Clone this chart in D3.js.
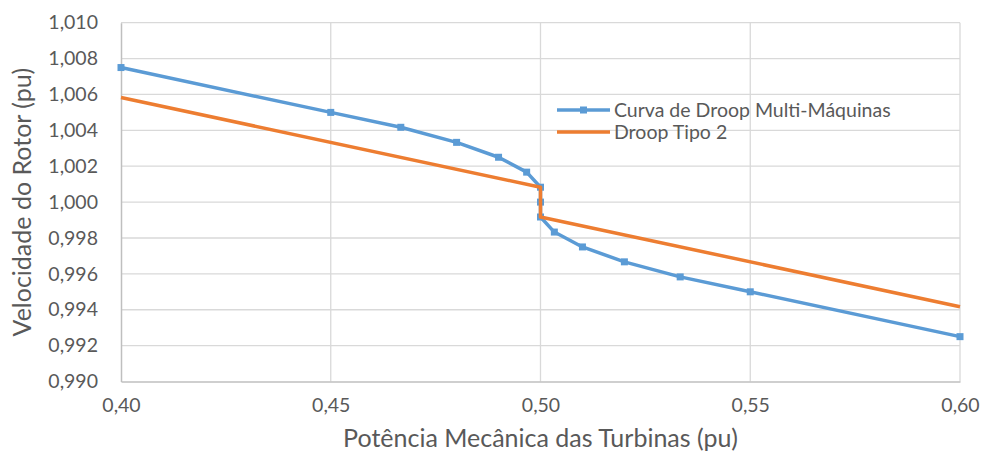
<!DOCTYPE html>
<html>
<head>
<meta charset="utf-8">
<script src="https://cdn.jsdelivr.net/npm/d3@7"></script>
<style>
  html, body { margin: 0; padding: 0; background: #fff; }
  svg text { font-family: Lato, "Open Sans", sans-serif; fill: #595959; }
</style>
</head>
<body>
<svg id="chart" width="984" height="455"></svg>
<script>
// Multi-machine droop curve (power, speed)
const multiP = [0.40, 0.45, 0.4667, 0.48, 0.49, 0.4967, 0.50, 0.50, 0.50, 0.5033, 0.51, 0.52, 0.5333, 0.55, 0.60];
const multiW = [1.0075, 1.0050, 1.00417, 1.00333, 1.0025, 1.00167, 1.00083, 1.0000, 0.99917, 0.99833, 0.9975, 0.99667, 0.99583, 0.9950, 0.9925];
// Type 2 droop
const tipo2P = [0.40, 0.50, 0.50, 0.60];
const tipo2W = [1.00583, 1.00083, 0.99917, 0.99417];
// Tick values
const xTicks = [0.40, 0.45, 0.50, 0.55, 0.60];
const yTicks = [0.990, 0.992, 0.994, 0.996, 0.998, 1.000, 1.002, 1.004, 1.006, 1.008, 1.010];
const seriesNames = ["Curva de Droop Multi-Máquinas", "Droop Tipo 2"];

const svg = d3.select("#chart");
const plotL = 121, plotR = 960, plotT = 22.7, plotB = 381.5;

const x = d3.scaleLinear().domain([0.40, 0.60]).range([plotL, plotR]);
const y = d3.scaleLinear().domain([0.990, 1.010]).range([plotB, plotT]);
const fmt = (d, n) => d.toFixed(n).replace(".", ",");

// gridlines
svg.append("g").selectAll("line").data(yTicks.slice(1)).join("line")
  .attr("x1", plotL).attr("x2", plotR)
  .attr("y1", d => y(d)).attr("y2", d => y(d))
  .attr("stroke", "#D9D9D9").attr("stroke-width", 1.3);
svg.append("g").selectAll("line").data(xTicks.slice(1)).join("line")
  .attr("x1", d => x(d)).attr("x2", d => x(d))
  .attr("y1", plotT).attr("y2", plotB)
  .attr("stroke", "#D9D9D9").attr("stroke-width", 1.3);

// axes
const xAxis = d3.axisBottom(x).tickValues(xTicks).tickFormat(d => fmt(d, 2)).tickSize(0).tickPadding(17);
const yAxis = d3.axisLeft(y).tickValues(yTicks).tickFormat(d => fmt(d, 3)).tickSize(0).tickPadding(23);
const gx = svg.append("g").attr("transform", `translate(0,${plotB})`).call(xAxis);
const gy = svg.append("g").attr("transform", `translate(${plotL},0)`).call(yAxis);
[gx, gy].forEach(g => {
  g.select(".domain").attr("stroke", "#BFBFBF").attr("stroke-width", 1.5);
  g.selectAll("text").attr("font-size", 19.5).attr("fill", "#595959")
    .style("font-family", "Lato, 'Open Sans', sans-serif");
});

// axis titles
svg.append("text").attr("x", (plotL + plotR) / 2).attr("y", 447)
  .attr("text-anchor", "middle").attr("font-size", 25).text("Potência Mecânica das Turbinas (pu)");
svg.append("text").attr("transform", `translate(31,${(plotT + plotB) / 2}) rotate(-90)`)
  .attr("text-anchor", "middle").attr("font-size", 25).text("Velocidade do Rotor (pu)");

const line = d3.line().x(d => x(d[0])).y(d => y(d[1]));
const blue = "#5B9BD5", orange = "#ED7D31";
const multi = multiP.map((p, i) => [p, multiW[i]]);
const tipo2 = tipo2P.map((p, i) => [p, tipo2W[i]]);

svg.append("path").datum(multi).attr("d", line).attr("fill", "none")
  .attr("stroke", blue).attr("stroke-width", 3.5).attr("stroke-linejoin", "round");
svg.append("g").selectAll("rect").data(multi).join("rect")
  .attr("x", d => x(d[0]) - 3.5).attr("y", d => y(d[1]) - 3.5)
  .attr("width", 7).attr("height", 7).attr("fill", blue);
svg.append("path").datum(tipo2).attr("d", line).attr("fill", "none")
  .attr("stroke", orange).attr("stroke-width", 3.5).attr("stroke-linejoin", "round");

// legend
const lg = svg.append("g").attr("transform", "translate(557,110)");
lg.append("line").attr("x1", 0).attr("x2", 53).attr("y1", 0).attr("y2", 0)
  .attr("stroke", blue).attr("stroke-width", 3.5);
lg.append("rect").attr("x", 23).attr("y", -3.5).attr("width", 7).attr("height", 7).attr("fill", blue);
lg.append("line").attr("x1", 0).attr("x2", 53).attr("y1", 22).attr("y2", 22)
  .attr("stroke", orange).attr("stroke-width", 3.5);
lg.selectAll("text").data(seriesNames).join("text")
  .attr("x", 57).attr("y", (d, i) => i * 22).attr("dy", "0.35em")
  .attr("font-size", 19.5).text(d => d);
</script>
</body>
</html>
